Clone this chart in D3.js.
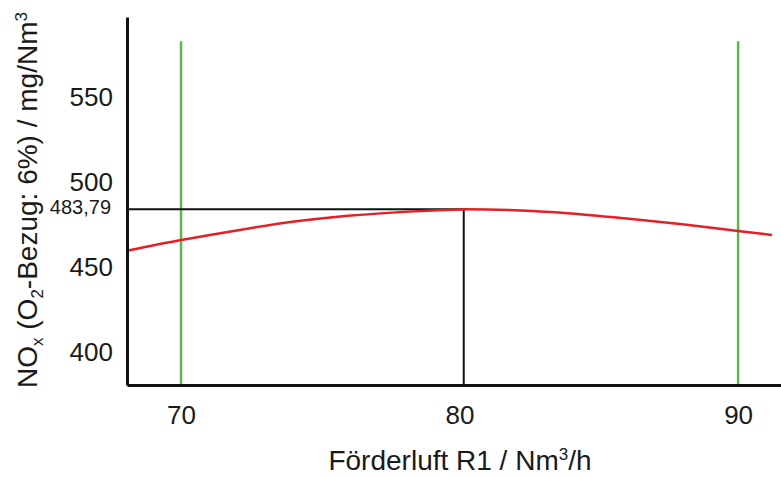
<!DOCTYPE html>
<html>
<head>
<meta charset="utf-8">
<script src="https://cdn.jsdelivr.net/npm/d3@7"></script>
<style>
  body { margin: 0; background: #fff; }
  text { font-family: "Liberation Sans", Arial, sans-serif; fill: #1a1a1a; }
</style>
</head>
<body>
<div class="container"></div>
<script>
const WIDTH = 781;
const HEIGHT = 477;
const MARGIN = { top: 17, right: 0, bottom: 92, left: 127 };

// NOx curve over Förderluft R1
const curveX = [68.06, 70, 72, 74, 76, 78, 80, 80.15, 82, 84, 86, 88, 90, 91.22];
const curveY = [459.4, 465.7, 471.4, 476.5, 480.0, 482.3, 483.72, 483.79, 483.3, 481.4, 478.4, 475.0, 471.0, 468.7];

const xTicks = [70, 80, 90];
const yTicks = [400, 450, 500, 550];
const limitX = [70, 90];
const limitTop = 582.8;
const optimum = [80.15, 483.79];
const optimumLabel = '483,79';

var translate = function(x, y) {
    return `translate(${x},${y})`;
};

var draw = function() {
    var svg = d3.select('.container').append('svg')
        .attr('width', WIDTH)
        .attr('height', HEIGHT);

    var w = WIDTH - MARGIN.left - MARGIN.right;
    var h = HEIGHT - MARGIN.top - MARGIN.bottom;

    let xScale = d3.scaleLinear().domain([68.06, 91.54]).range([0, w]);
    let yScale = d3.scaleLinear().domain([380.4, 597]).range([h, 0]);

    var g = svg.append('g').attr('transform', translate(MARGIN.left, MARGIN.top));

    // green limit lines
    g.selectAll('.limit').data(limitX).enter()
        .append('line')
        .attr('x1', d => xScale(d)).attr('x2', d => xScale(d))
        .attr('y1', yScale(limitTop)).attr('y2', h)
        .attr('stroke', '#5cb84e')
        .attr('stroke-width', 2.5);

    // optimum guide lines
    var guide = d3.line()
        .x(d => xScale(d[0]))
        .y(d => yScale(d[1]));
    g.append('path')
        .attr('d', guide([[68.06, optimum[1]], optimum, [optimum[0], 380.4]]))
        .attr('fill', 'none')
        .attr('stroke', '#111')
        .attr('stroke-width', 2);

    // curve
    var line = d3.line()
        .x((d, i) => xScale(curveX[i]))
        .y(d => yScale(d))
        .curve(d3.curveMonotoneX);
    g.append('path')
        .attr('d', line(curveY))
        .attr('fill', 'none')
        .attr('stroke', '#e61e25')
        .attr('stroke-width', 2.5);

    // axes
    let xAxis = d3.axisBottom(xScale).tickValues(xTicks).tickSize(0).tickPadding(21).tickSizeOuter(0);
    let yAxis = d3.axisLeft(yScale).tickValues(yTicks).tickSize(0).tickPadding(14).tickSizeOuter(0);

    var gx = g.append('g').attr('transform', translate(0, h)).call(xAxis);
    var gy = g.append('g').call(yAxis);
    [gx, gy].forEach(a => {
        a.select('.domain').attr('stroke', '#111').attr('stroke-width', 3);
        a.selectAll('text').attr('font-size', 26).attr('fill', '#1a1a1a')
            .attr('font-family', '"Liberation Sans", Arial, sans-serif');
    });

    g.append('text')
        .attr('x', -16)
        .attr('y', yScale(optimum[1]) - 1.5)
        .attr('dy', '0.32em')
        .attr('text-anchor', 'end')
        .attr('font-size', 20)
        .text(optimumLabel);

    // x title
    var xt = svg.append('text')
        .attr('x', 460)
        .attr('y', 470)
        .attr('text-anchor', 'middle')
        .attr('font-size', 28);
    xt.append('tspan').text('Förderluft R1 / Nm');
    xt.append('tspan').attr('font-size', 17).attr('dy', -10).text('3');
    xt.append('tspan').attr('dy', 10).text('/h');

    // y title
    var yt = svg.append('text')
        .attr('transform', translate(37, 200) + ' rotate(-90)')
        .attr('text-anchor', 'middle')
        .attr('font-size', 28);
    yt.append('tspan').text('NO');
    yt.append('tspan').attr('font-size', 17).attr('dy', 6).text('x');
    yt.append('tspan').attr('dy', -6).text(' (O');
    yt.append('tspan').attr('font-size', 17).attr('dy', 6).text('2');
    yt.append('tspan').attr('dy', -6).text('-Bezug: 6%) / mg/Nm');
    yt.append('tspan').attr('font-size', 17).attr('dy', -10).text('3');
};
window.onload = draw;
</script>
</body>
</html>
